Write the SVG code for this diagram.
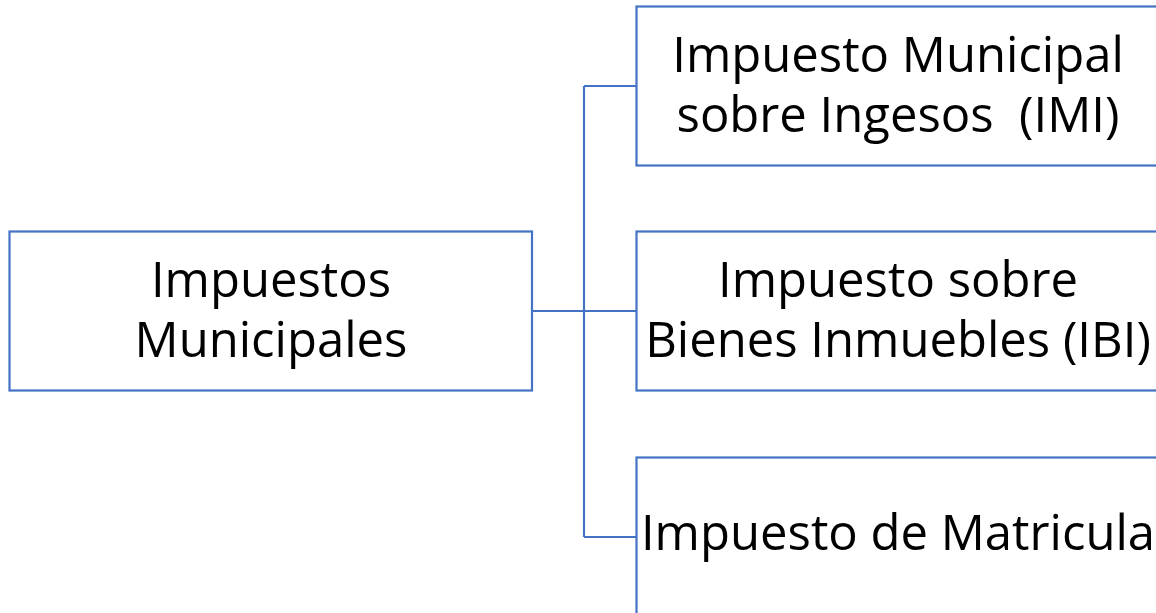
<svg xmlns="http://www.w3.org/2000/svg" width="1156" height="613" viewBox="0 0 1156 613">
<style>
.box{fill:#ffffff;stroke:#4472C4;stroke-width:2.2}
.con{fill:none;stroke:#4472C4;stroke-width:2.2}
.t{font-family:"Open Sans","Liberation Sans",sans-serif;font-size:49px;fill:#000000;text-anchor:middle}
</style>
<rect width="1156" height="613" fill="#ffffff"/>
<g id="connectors">
<path class="con" d="M532,311 H636 M584,86 V537 M584,86 H636 M584,537 H636"/>
</g>
<g id="root">
<rect class="box" x="9.5" y="231.5" width="522.5" height="159"/>
<text class="t" x="271" y="297">Impuestos</text>
<text class="t" x="271" y="357">Municipales</text>
</g>
<g id="imi">
<rect class="box" x="636.5" y="6.5" width="523" height="159"/>
<text class="t" x="898" y="72">Impuesto Municipal</text>
<text class="t" x="898" y="132" xml:space="preserve">sobre Ingesos  (IMI)</text>
</g>
<g id="ibi">
<rect class="box" x="636.5" y="231.5" width="523" height="159"/>
<text class="t" x="898" y="297">Impuesto sobre</text>
<text class="t" x="898" y="357">Bienes Inmuebles (IBI)</text>
</g>
<g id="matricula">
<rect class="box" x="636.5" y="457.5" width="523" height="159"/>
<text class="t" x="898" y="550">Impuesto de Matricula</text>
</g>
</svg>
